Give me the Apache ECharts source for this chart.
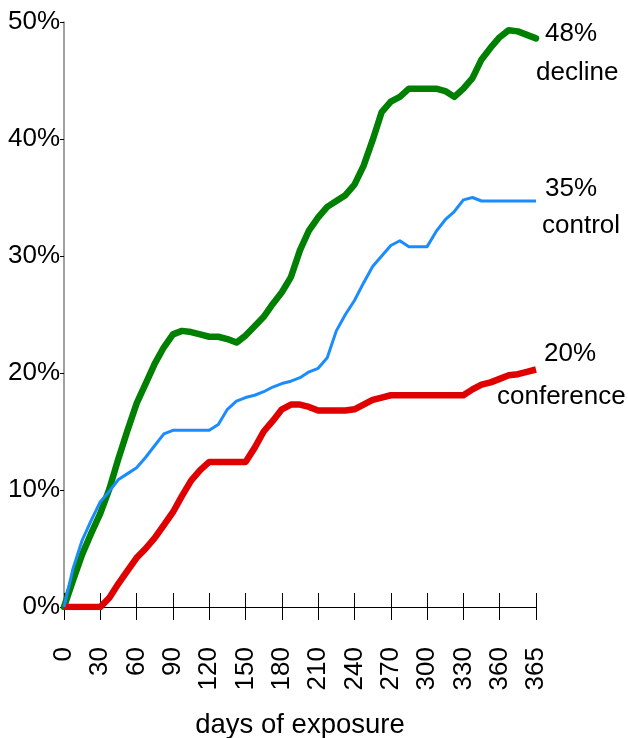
<!DOCTYPE html>
<html>
<head>
<meta charset="utf-8">
<script src="https://cdn.jsdelivr.net/npm/echarts@6/dist/echarts.min.js"></script>
<style>
  html, body { margin: 0; padding: 0; background: #fff; }
  #chart { width: 628px; height: 738px; }
</style>
</head>
<body>
<div id="chart"></div>
<script>
// one point per week, labelled every 4 weeks
const weeks = [0,1,2,3,4,5,6,7,8,9,10,11,12,13,14,15,16,17,18,19,20,21,22,23,24,25,26,27,28,29,30,31,32,33,34,35,36,37,38,39,40,41,42,43,44,45,46,47,48,49,50,51,52]
const dayLabels = ['0','30','60','90','120','150','180','210','240','270','300','330','360','365']

const decline = [0,2.3,4.5,6.3,8.0,10.1,12.7,15.1,17.4,19.1,
  20.8,22.2,23.3,23.6,23.5,23.3,23.1,23.1,22.9,22.6,
  23.2,24.0,24.8,25.9,26.9,28.2,30.5,32.2,33.3,34.2,
  34.7,35.2,36.1,37.7,39.9,42.3,43.2,43.6,44.3,44.3,
  44.3,44.3,44.1,43.6,44.3,45.2,46.8,47.8,48.7,49.3,
  49.2,48.9,48.6]
const control = [0,3.3,5.7,7.4,9.0,9.9,10.9,11.4,11.9,12.8,
  13.8,14.8,15.1,15.1,15.1,15.1,15.1,15.6,16.9,17.6,
  17.9,18.1,18.4,18.8,19.1,19.3,19.6,20.1,20.4,21.3,
  23.6,25.0,26.2,27.7,29.1,30.0,30.9,31.3,30.8,30.8,
  30.8,32.1,33.1,33.8,34.8,35.0,34.7,34.7,34.7,34.7,
  34.7,34.7,34.7]
const conference = [0,0,0,0,0,0.8,2.0,3.1,4.2,5.0,
  5.9,7.0,8.1,9.5,10.8,11.7,12.4,12.4,12.4,12.4,
  12.4,13.6,15.0,15.9,16.9,17.3,17.3,17.1,16.8,16.8,
  16.8,16.8,16.9,17.3,17.7,17.9,18.1,18.1,18.1,18.1,
  18.1,18.1,18.1,18.1,18.1,18.6,19.0,19.2,19.5,19.8,
  19.9,20.1,20.3]

const FONT = "'Liberation Sans', Arial, sans-serif"

const chart = echarts.init(document.getElementById('chart'), null, { renderer: 'canvas' })

function endText(text, x, y) {
  return {
    type: 'text',
    x: x,
    y: y,
    style: {
      text: text,
      fill: '#000',
      font: '26px ' + FONT,
      textAlign: 'left',
      textVerticalAlign: 'middle'
    }
  }
}

chart.setOption({
  animation: false,
  backgroundColor: '#fff',
  grid: { left: 64, right: 92, top: 22, bottom: 131, containLabel: false, outerBoundsMode: 'none' },
  xAxis: [{
    type: 'category',
    position: 'bottom',
    data: weeks,
    boundaryGap: false,
    name: 'days of exposure',
    nameLocation: 'middle',
    nameGap: 104,
    nameTextStyle: { color: '#000', fontSize: 27.5, fontFamily: FONT },
    axisLine: { show: true, lineStyle: { color: '#000', width: 1 } },
    axisTick: { show: true, interval: 3, length: 13, lineStyle: { color: '#000', width: 1 } },
    axisLabel: {
      interval: 3,
      rotate: 90,
      margin: 40,
      color: '#000',
      fontSize: 26,
      fontFamily: FONT,
      formatter: (v, i) => (i % 4 === 0 ? dayLabels[i / 4] : '')
    },
    splitLine: { show: false }
  }, {
    // upper half of the crossing tick marks
    type: 'category',
    position: 'bottom',
    data: weeks,
    boundaryGap: false,
    axisLine: { show: false },
    axisTick: { show: true, inside: true, interval: 3, length: 14, lineStyle: { color: '#000', width: 1 } },
    axisLabel: { show: false },
    splitLine: { show: false }
  }],
  yAxis: {
    type: 'value',
    min: 0,
    max: 50,
    interval: 10,
    axisLine: { show: true, lineStyle: { color: '#808080', width: 1.5 } },
    axisTick: { show: true, length: 4, lineStyle: { color: '#000', width: 1 } },
    axisLabel: {
      margin: 4,
      color: '#000',
      fontSize: 26,
      fontFamily: FONT,
      formatter: '{value}%'
    },
    splitLine: { show: false }
  },
  series: [{
    name: 'decline',
    type: 'line',
    data: decline,
    symbol: 'none',
    lineStyle: { color: '#008000', width: 6.5, join: 'round', cap: 'round' }
  }, {
    name: 'conference',
    type: 'line',
    data: conference,
    symbol: 'none',
    lineStyle: { color: '#e00000', width: 6.5, join: 'round', cap: 'butt' }
  }, {
    name: 'control',
    type: 'line',
    data: control,
    symbol: 'none',
    lineStyle: { color: '#1a8cff', width: 3, join: 'round' }
  }],
  graphic: [
    endText('48%', 545, 34),
    endText('decline', 536, 73),
    endText('35%', 545, 189),
    endText('control', 542, 226),
    endText('20%', 544, 354),
    endText('conference', 497, 397)
  ]
})
</script>
</body>
</html>
